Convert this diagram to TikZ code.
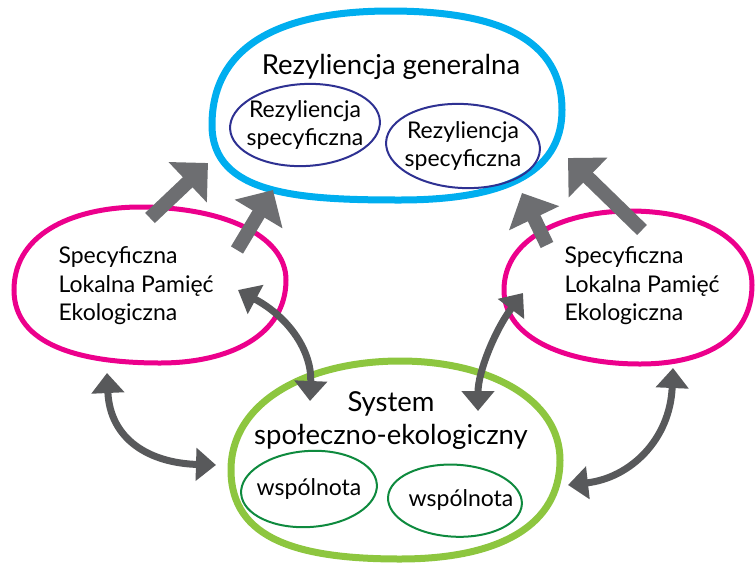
\documentclass[tikz,border=0pt]{standalone}
\usepackage{fontspec}
\setmainfont{Lato}
\usetikzlibrary{arrows.meta,calc}
\definecolor{cblue}{HTML}{00AEEF}
\definecolor{cnavy}{HTML}{2E3192}
\definecolor{cpink}{HTML}{EC008C}
\definecolor{clime}{HTML}{8DC63F}
\definecolor{cgreen}{HTML}{0E8A3E}
\definecolor{cgray}{HTML}{6D6E71}
\definecolor{cdark}{HTML}{58595B}
\begin{document}
\begin{tikzpicture}[x=1pt,y=-1pt,
  blob/.style={line width=7pt},
  ring/.style={line width=2pt},
  innertxt/.style={align=center,font=\fontsize{23}{28}\selectfont},
  bigtxt/.style={align=center,font=\fontsize{27.5}{33}\selectfont},
  memtxt/.style={align=left,font=\fontsize{23}{28.5}\selectfont},
  flow/.style={line width=14pt,cgray,-{Triangle[length=28pt,width=54pt]}},
  link/.style={line width=7pt,cdark,{Triangle[length=20pt,width=32pt]}-{Triangle[length=20pt,width=32pt]}}]
\useasboundingbox (0,0) rectangle (755,563);

% outer outlines
\draw[blob,cblue] (212,125) .. controls (212,40) and (290,11) .. (390,11)
  .. controls (500,11) and (562,40) .. (562,110)
  .. controls (562,175) and (500,200) .. (400,200)
  .. controls (300,200) and (212,195) .. cycle;
\draw[blob,cpink,line width=5pt] (14,290) .. controls (14,230) and (80,207) .. (140,207)
  .. controls (222,207) and (286,235) .. (286,280)
  .. controls (286,335) and (230,363) .. (160,363)
  .. controls (80,363) and (14,345) .. cycle;
\draw[blob,cpink,line width=5pt] (504,290) .. controls (504,235) and (570,211) .. (630,211)
  .. controls (702,211) and (752,240) .. (752,285)
  .. controls (752,335) and (710,364) .. (640,364)
  .. controls (570,364) and (504,340) .. cycle;
\draw[blob,clime] (231,470) .. controls (231,400) and (310,361) .. (400,361)
  .. controls (490,361) and (560,400) .. (560,460)
  .. controls (560,525) and (500,559) .. (400,559)
  .. controls (300,559) and (231,540) .. cycle;

% titles
\node[bigtxt] (gen) at (391,67) {Rezyliencja generalna};
\node[bigtxt] (ses) at (391,421) {System\\społeczno-ekologiczny};

% inner labels and their outlines
\node[innertxt] (rs1) at (305,125) {Rezyliencja\\specyficzna};
\node[innertxt] (rs2) at (463,146) {Rezyliencja\\specyficzna};
\node[innertxt] (w1) at (309,489) {wspólnota};
\node[innertxt] (w2) at (461,500) {wspólnota};
\draw[ring,cnavy,rotate around={3:(rs1.center)}] (rs1.center) ellipse[x radius=75pt,y radius=41pt];
\draw[ring,cnavy,rotate around={-3:(rs2.center)}] (rs2.center) ellipse[x radius=77pt,y radius=42pt];
\draw[ring,cgreen,rotate around={4:(w1.center)}] (w1.center) ellipse[x radius=68pt,y radius=38pt];
\draw[ring,cgreen,rotate around={-3:(w2.center)}] ($(w2.center)+(-6,1)$) ellipse[x radius=67pt,y radius=36pt];

% memory labels
\node[memtxt,anchor=west] (m1) at (55,286) {Specyficzna\\Lokalna Pamięć\\Ekologiczna};
\node[memtxt,anchor=west] (m2) at (561,286) {Specyficzna\\Lokalna Pamięć\\Ekologiczna};

% connector end points
\coordinate (a1s) at (150,218);  \coordinate (a1e) at (208,163);
\coordinate (a2s) at (237,250);  \coordinate (a2e) at (273,190);
\coordinate (a3s) at (547,245);  \coordinate (a3e) at (522,193);
\coordinate (a4s) at (642,230);  \coordinate (a4e) at (568,158);
\coordinate (cAs) at (238,290);  \coordinate (cAe) at (310,401);
\coordinate (cBs) at (107,373);  \coordinate (cBe) at (216,465);
\coordinate (cCs) at (523,293);  \coordinate (cCe) at (478,411);
\coordinate (cDs) at (673,368);  \coordinate (cDe) at (568,485);

% influence towards general resilience
\draw[flow] (a1s) -- (a1e);
\draw[flow] (a2s) -- (a2e);
\draw[flow] (a3s) -- (a3e);
\draw[flow] (a4s) -- (a4e);

% two-way links with the social-ecological system
\draw[link] (cAs) .. controls (290,318) and (312,352) .. (cAe);
\draw[link] (cBs) .. controls (110,440) and (150,463) .. (cBe);
\draw[link] (cCs) .. controls (495,330) and (478,372) .. (cCe);
\draw[link] (cDs) .. controls (670,440) and (630,478) .. (cDe);
\end{tikzpicture}
\end{document}
